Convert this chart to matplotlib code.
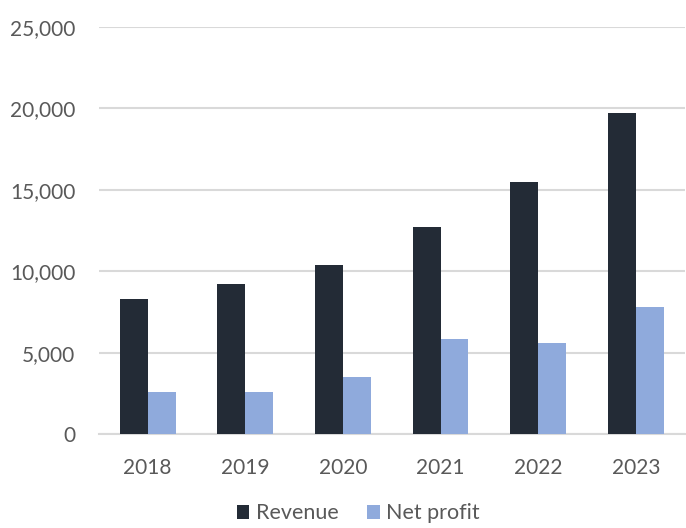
import matplotlib.pyplot as plt
import numpy as np
from matplotlib.ticker import FuncFormatter

years = ['2018', '2019', '2020', '2021', '2022', '2023']
revenue = [8300, 9200, 10400, 12700, 15500, 19700]
net_profit = [2600, 2600, 3500, 5850, 5570, 7800]

plt.rcParams['font.family'] = ['Lato', 'DejaVu Sans']
text_col = '#595959'

fig = plt.figure(figsize=(6.86, 5.28), dpi=100)
ax = fig.add_axes([0.144, 0.178, 0.854, 0.771])

x = np.arange(len(years))
w = 0.286
ax.bar(x - w / 2, revenue, w, color='#232B36', label='Revenue', zorder=3)
ax.bar(x + w / 2, net_profit, w, color='#8FAADC', label='Net profit', zorder=3)

ax.set_xlim(-0.5, len(years) - 0.5)
ax.set_ylim(0, 25000)
ax.set_yticks(range(0, 25001, 5000))
ax.yaxis.set_major_formatter(FuncFormatter(lambda v, p: '{:,.0f}'.format(v)))
ax.set_xticks(x)
ax.set_xticklabels(years)

ax.grid(axis='y', color='#D9D9D9', linewidth=1.5, zorder=0)
for s in ['top', 'right', 'left']:
    ax.spines[s].set_visible(False)
ax.spines['bottom'].set_color('#D9D9D9')
ax.spines['bottom'].set_linewidth(1.5)
ax.tick_params(axis='both', length=0, labelsize=15, colors=text_col)
ax.tick_params(axis='x', pad=17)
ax.tick_params(axis='y', pad=17)

fig.legend(loc='lower center', bbox_to_anchor=(0.522, -0.028), ncol=2, frameon=False,
           fontsize=15.5, labelcolor=text_col, handlelength=0.6, handleheight=0.6,
           handletextpad=0.3, columnspacing=1.3)

fig.savefig('out.png', dpi=100)
